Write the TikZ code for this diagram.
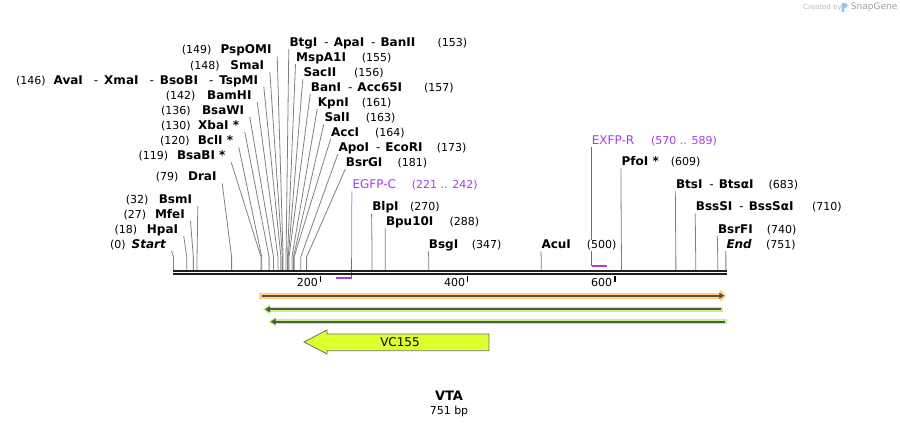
\documentclass[tikz,border=0pt]{standalone}
\usepackage{fontspec}
\setmainfont{DejaVu Sans}
\usetikzlibrary{arrows.meta,backgrounds}

\definecolor{cutgray}{RGB}{128,128,128}
\definecolor{primer}{RGB}{170,60,230}
\definecolor{primerlight}{RGB}{205,150,245}
\definecolor{orangeglow}{RGB}{253,208,135}
\definecolor{orangecore}{RGB}{95,80,60}
\definecolor{greenglow}{RGB}{190,245,130}
\definecolor{greencore}{RGB}{80,90,65}
\definecolor{vcfill}{RGB}{223,255,46}
\definecolor{vcline}{RGB}{110,110,110}
\definecolor{logoblue}{RGB}{140,200,240}

\newcommand\lsep{\mdseries\hspace{11pt}-\hspace{6pt}\bfseries}
\newcommand\rsep{\mdseries\hspace{7pt}-\hspace{5pt}\bfseries}

\tikzset{
  lab/.style={inner xsep=0pt, inner ysep=1pt, fill=white},
  enzlab/.style={lab, font=\fontsize{12}{14}\selectfont\bfseries},
  numlab/.style={lab, font=\fontsize{11}{13}\selectfont},
  cut/.style={draw=cutgray, line width=0.8pt},
  tick/.style={line width=1.4pt},
}

\begin{document}
\begin{tikzpicture}[x=1pt,y=-1pt]
\useasboundingbox (0,0) rectangle (900,427);

\foreach \id/\bp/\xn/\xe/\yb/\num/\name in {
  s0/0/110/166/248.3/(0)/{\itshape Start},
  hpa/18/114.3/178.3/233.7/(18)/HpaI,
  mfe/27/123.3/185/218.7/(27)/MfeI,
  bsm/32/125.7/192.3/203.7/(32)/BsmI,
  dra/79/155.7/216.7/181/(79)/DraI,
  bsab/119/138.3/225.7/159.8/(119)/BsaBI *,
  bcl/120/160/233.3/144.7/(120)/BclI *,
  xba/130/161/239.3/129.6/(130)/XbaI *,
  bsaw/136/161/244.3/114.5/(136)/BsaWI,
  bam/142/165.7/251.7/99.4/(142)/BamHI,
  ava/146/16/258.3/84.3/(146)/{AvaI\lsep XmaI\lsep BsoBI\lsep TspMI},
  sma/148/190/264.3/69.2/(148)/SmaI,
  psp/149/181.7/271.7/54/(149)/PspOMI
}{
  \node[enzlab, anchor=base east] (\id) at (\xe,\yb) {\name};
  \node[numlab, anchor=base west] (\id-n) at (\xn,\yb) {\num};
  \coordinate (\id-k) at ({173.5+0.7355*\bp},257);
  \coordinate (\id-s) at ({173.5+0.7355*\bp},271);
  \begin{scope}[on background layer]
    \draw[cut] ([shift={(5.5,2.5)}]\id.base east) -- (\id-k) -- (\id-s);
  \end{scope}
}

\foreach \id/\bp/\xs/\xn/\yb/\name/\num in {
  btg/153/289.3/437.3/46.7/{BtgI\rsep ApaI\rsep BanII}/(153),
  msp/155/296/361.7/61.7/MspA1I/(155),
  sac/156/303.3/354/76.7/SacII/(156),
  ban/157/310.7/424/91.7/{BanI\rsep Acc65I}/(157),
  kpn/161/317.7/361.7/106.7/KpnI/(161),
  sal/163/324.3/365.7/121.7/SalI/(163),
  acc/164/331/375/136.7/AccI/(164),
  apo/173/338.3/436.7/151.7/{ApoI\rsep EcoRI}/(173),
  bsrg/181/345.7/397.3/166.7/BsrGI/(181),
  blp/270/372.1/410/211/BlpI/(270),
  bpu/288/385.8/449.3/226/Bpu10I/(288),
  bsg/347/428.7/471.7/248.7/BsgI/(347),
  acu/500/541.3/586.7/249/AcuI/{(500)\hspace{6pt}},
  pfo/609/621.4/670.7/166/PfoI */(609),
  bts/683/675.8/768.3/188.7/{BtsI\rsep BtsαI}/(683),
  bsss/710/695.7/812/211/{BssSI\rsep BssSαI}/(710),
  bsrf/740/717.8/766.7/233.7/BsrFI/(740),
  e/751/726.3/766/248.7/{\itshape End}/(751)
}{
  \node[enzlab, anchor=base west] (\id) at (\xs,\yb) {\name};
  \node[numlab, anchor=base west] (\id-n) at (\xn,\yb) {\num};
  \coordinate (\id-k) at ({173.5+0.7355*\bp},257);
  \coordinate (\id-s) at ({173.5+0.7355*\bp},271);
  \begin{scope}[on background layer]
    \draw[cut] ([shift={(-0.5,2.5)}]\id.base west) -- (\id-k) -- (\id-s);
  \end{scope}
}

\node[numlab, anchor=base west, text=primer, font=\fontsize{12}{14}\selectfont] (egfp) at (352.3,189) {EGFP-C};
\node[numlab, anchor=base west, text=primer] (egfp-n) at (411.7,189) {(221 .. 242)};
\coordinate (egfp-k) at (351.5,258);
\coordinate (egfp-s) at (351.5,278.5);
\coordinate (egfp-a) at (336,278.5);
\node[numlab, anchor=base west, text=primer, font=\fontsize{12}{14}\selectfont] (exfp) at (591.7,144.3) {EXFP-R};
\node[numlab, anchor=base west, text=primer] (exfp-n) at (651,144.3) {(570 .. 589)};
\coordinate (exfp-s) at (591.7,265.8);
\coordinate (exfp-b) at (606.5,265.8);
\begin{scope}[on background layer]
  \draw[primerlight, line width=1pt] ([shift={(-0.5,2.5)}]egfp.base west) -- (egfp-k);
  \draw[primer, line width=1pt] (egfp-k) -- (egfp-s);
  \draw[primer, line width=1pt] ([shift={(0,2.5)}]exfp.base west) -- (exfp-s);
\end{scope}
\draw[primer, line width=2pt] (egfp-a) -- (egfp-s);
\draw[primer, line width=2pt] (exfp-s) -- (exfp-b);

\draw[line width=2.2pt, black!88] (173,271.2) -- (727,271.2);
\draw[line width=2pt, black!88] (173,274.3) -- (727,274.3);
\foreach \t in {200,400,600}{
  \coordinate (tk\t) at ({173.5+0.7355*\t},276);
  \draw[tick] (tk\t) -- ++(0,6);
  \node[anchor=base east, inner sep=0pt, font=\fontsize{11}{13}\selectfont] (n\t)
    at ([shift={(-2.5,10.5)}]tk\t) {\t};
}

\draw[orangeglow, line width=6pt, -{Triangle[length=7pt,width=12pt]}] (259.3,295.7) -- (726.7,295.7);
\draw[orangecore, line width=2pt, -{Triangle[length=5pt,width=6pt]}] (261.7,295.7) -- (724.3,295.7);
\draw[greenglow, line width=5pt, {Triangle[length=7pt,width=10pt]}-] (262.7,309.3) -- (723.3,309.3);
\draw[greencore, line width=2pt, {Triangle[length=5pt,width=6pt]}-] (265,309.3) -- (721,309.3);
\draw[greenglow, line width=5pt, {Triangle[length=7pt,width=10pt]}-] (268.7,321.7) -- (727.3,321.7);
\draw[greencore, line width=2pt, {Triangle[length=5pt,width=6pt]}-] (270.7,321.7) -- (725,321.7);

\draw[fill=vcfill, draw=vcline, line width=0.8pt]
  (304,342) -- (327,330) -- (327,334) -- (489,334) -- (489,350.7)
  -- (327,350.7) -- (327,354) -- cycle;
\node[font=\fontsize{12}{14}\selectfont] (vc) at (400,342) {VC155};

\node[anchor=base, font=\fontsize{13}{15}\selectfont\bfseries] (title) at (449,401) {VTA};
\node[anchor=base, font=\fontsize{11}{13}\selectfont] (len) at (449,415) {751 bp};

\node[anchor=base west, inner sep=0pt, text=black!28, font=\fontsize{7}{8}\selectfont] (made) at (803,9.5) {Created by};
\fill[logoblue, rounded corners=0.8pt] (841.5,3) rectangle (844.3,12);
\fill[logoblue] (844.3,3) .. controls (848.5,3) and (848.5,8.5) .. (844.3,8.5) -- cycle;
\node[anchor=base west, inner sep=0pt, text=black!38, font=\fontsize{9}{10}\selectfont] (snap) at (850.7,10) {SnapGene};
\end{tikzpicture}
\end{document}
